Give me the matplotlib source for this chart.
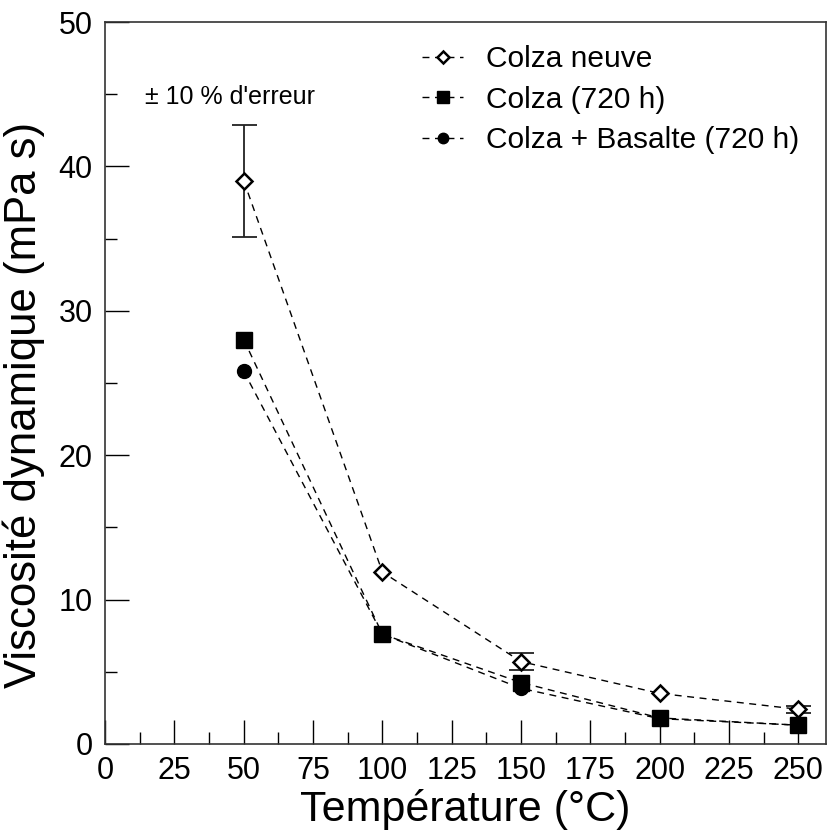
import matplotlib
matplotlib.use('Agg')
from matplotlib import pyplot as plt
import numpy as np

plt.rcParams['font.family'] = ['Liberation Sans', 'DejaVu Sans']

temperature = [50, 100, 150, 200, 250]
colza_neuve = [39.0, 11.9, 5.7, 3.5, 2.4]
colza_720 = [28.0, 7.6, 4.25, 1.8, 1.3]
colza_basalte = [25.8, 7.6, 3.85, 1.75, 1.3]
# barres d'erreur (+/- 10 %) seulement a 50, 150 et 250 C
err_temp = [50, 150, 250]
err_val = [39.0, 5.7, 2.4]

fig = plt.figure(figsize=(8.28, 8.34), dpi=100)
ax = fig.add_axes([0.127, 0.108, 0.8706, 0.8656])

dash = (0, (5, 4))
ax.plot(temperature, colza_neuve, color='black', lw=1, linestyle=dash,
        marker='D', markersize=8, markerfacecolor='white', markeredgewidth=1.8,
        label='Colza neuve', zorder=3)
ax.plot(temperature, colza_720, color='black', lw=1, linestyle=dash,
        marker='s', markersize=11, label='Colza (720 h)', zorder=3)
ax.plot(temperature, colza_basalte, color='black', lw=1, linestyle=dash,
        marker='o', markersize=10, label='Colza + Basalte (720 h)', zorder=2)
ax.errorbar(err_temp, err_val, yerr=[0.1 * v for v in err_val], fmt='none',
            ecolor='#222222', elinewidth=1.3, capsize=9, capthick=1.3, zorder=1)

ax.set_xlim(0, 260)
ax.set_ylim(0, 50)
ax.set_xticks(np.arange(0, 251, 25))
ax.set_xticks(np.arange(12.5, 251, 25), minor=True)
ax.set_yticks(np.arange(0, 51, 10))
ax.set_yticks(np.arange(5, 50, 10), minor=True)
ax.tick_params(which='major', direction='in', length=17, width=1, labelsize=22, pad=9)
ax.tick_params(which='minor', direction='in', length=8.5, width=1)
for s in ax.spines.values():
    s.set_linewidth(1.2)
    s.set_color('#333333')

ax.set_xlabel('Température (°C)', fontsize=31, labelpad=2)
ax.set_ylabel('Viscosité dynamique (mPa s)', fontsize=31.5)
ax.yaxis.set_label_coords(-0.083, 0.47)

ax.text(14.5, 44.8, '± 10 % d\'erreur', fontsize=18, va='center', ha='left')

leg = ax.legend(loc='upper right', bbox_to_anchor=(1.0, 1.005), frameon=False,
                fontsize=21.5, handlelength=1.4, handletextpad=0.75, labelspacing=0.42,
                markerscale=0.75)

fig.savefig('out.png', dpi=100)
